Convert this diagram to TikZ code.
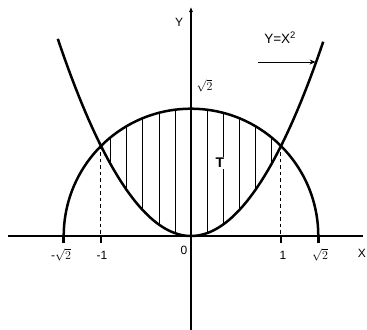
\documentclass[tikz,border=0pt]{standalone}
\usepackage{fontspec}
\setmainfont{Liberation Sans}
\usetikzlibrary{arrows.meta}
\begin{document}
\begin{tikzpicture}[x=90pt,y=90pt,
  curve/.style={line width=2.5pt,line join=round},
  axis/.style={line width=1.3pt},
  hatch/.style={line width=0.9pt},
  guide/.style={line width=1pt,dash pattern=on 3.5pt off 3pt},
  tick/.style={line width=1.2pt},
  lbl/.style={font=\fontsize{12}{14}\selectfont,inner sep=0.5pt}]
\useasboundingbox (-2.1222,-1.0444) rectangle (1.9556,2.6222);
% hatching
\foreach \k in {-5,-4,-3,-2,-1,1,2,3,4,5}{
  \pgfmathsetmacro{\xx}{0.178*\k}
  \draw[hatch] (\xx,{\xx*\xx}) -- (\xx,{sqrt(2-\xx*\xx)});
}
% axes
\coordinate (xl) at (-2.033,0);
\coordinate (xr) at (1.911,0);
\coordinate (yb) at (0,-1.0444);
\coordinate (yt) at (0,2.54);
\draw[axis] (xl) -- (xr);
\draw[axis,-{Stealth[length=5pt,width=4pt]}] (yb) -- (yt);
% curves
\draw[curve] (1.41421,0) arc[start angle=0,end angle=180,radius=1.41421];
\draw[curve] plot[domain=-1.48:1.47,samples=60,smooth] (\x,{\x*\x});
% guides and ticks
\coordinate (pl) at (-1,1);
\coordinate (pr) at (1,1);
\coordinate (ql) at (-1,0);
\coordinate (qr) at (1,0);
\draw[guide] (pl) -- (ql);
\draw[guide] (pr) -- (qr);
\draw[tick] (-1,0) -- (-1,-0.08);
\draw[tick] (1,0) -- (1,-0.08);
\draw[curve] (-1.41421,0) -- (-1.41421,-0.08);
\draw[curve] (1.41421,0) -- (1.41421,-0.08);
% labels
\node[lbl] (ly) at (-0.133,2.378) {Y};
\node[lbl] (lx) at (1.90,-0.19) {X};
\node[lbl] (ls2t) at (0.15,1.667) {$\sqrt{2}$};
\node[lbl] (l0) at (-0.078,-0.16) {0};
\node[lbl] (lm1) at (-0.99,-0.211) {-1};
\node[lbl] (l1) at (1.022,-0.211) {1};
\node[lbl] (lms2) at (-1.444,-0.211) {-$\sqrt{2}$};
\node[lbl] (ls2) at (1.433,-0.211) {$\sqrt{2}$};
\node[lbl,fill=white,font=\fontsize{14}{16}\selectfont\bfseries,inner sep=1pt] (lt) at (0.322,0.811) {T};
\node[lbl,font=\fontsize{13.5}{15}\selectfont] (lyx) at (0.99,2.2) {Y=X\textsuperscript{2}};
\coordinate (as) at (0.744,1.933);
\coordinate (ae) at (1.385,1.933);
\draw[line width=1pt,-{Stealth[length=6pt,width=5pt]}] (as) -- (ae);
\end{tikzpicture}
\end{document}
